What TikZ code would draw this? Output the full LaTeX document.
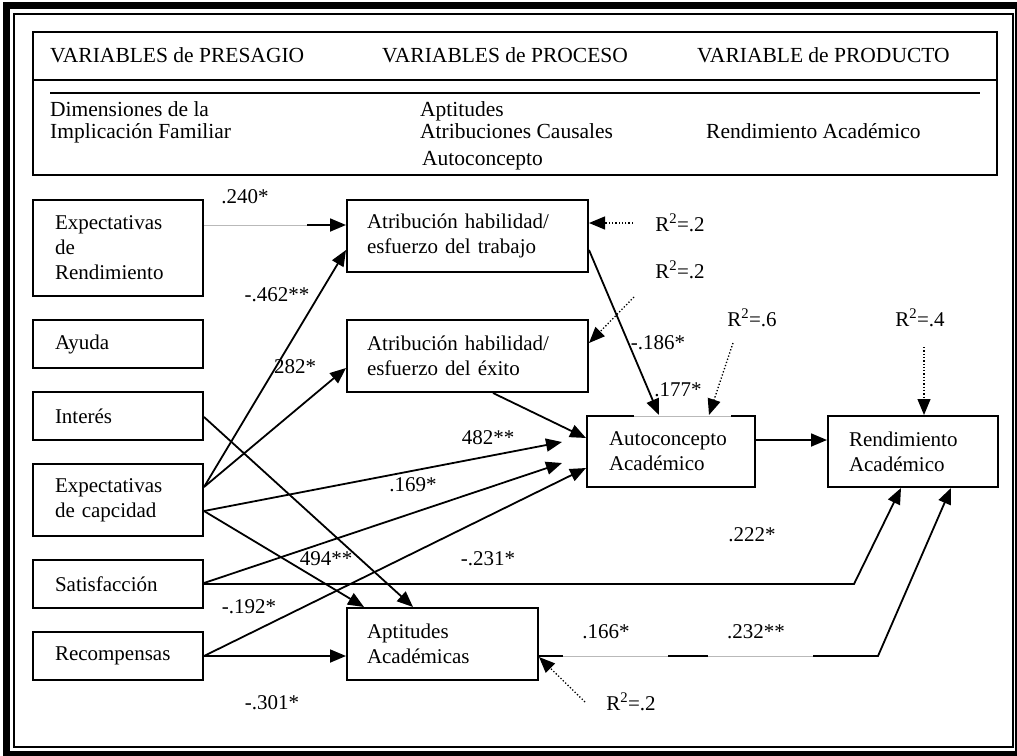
\documentclass[tikz,border=0pt]{standalone}
\usepackage{fontspec}
\setmainfont{Liberation Serif}
\usetikzlibrary{arrows.meta}
\begin{document}
\begin{tikzpicture}[x=1pt,y=-1pt,
  txt/.style={font=\fontsize{21}{25}\selectfont},
  box/.style={draw, line width=2pt, align=left, inner ysep=0pt, txt},
  lbox/.style={box, minimum width=170pt, text width=126pt, inner xsep=22pt},
  abox/.style={box, minimum width=241pt, text width=201pt, inner xsep=20pt, minimum height=72pt},
  lab/.style={txt, inner sep=0pt},
  hdr/.style={font=\fontsize{21.5}{25}\selectfont, inner sep=0pt, anchor=base west},
  arr/.style={line width=1.8pt, -{Triangle[length=16pt,width=13pt]}},
  dotarr/.style={line width=1.3pt, dotted, -{Triangle[length=16pt,width=13pt]}},
  faint/.style={gray!55, line width=0.6pt}
]
\useasboundingbox (0,0) rectangle (1017,755);
% frame
\draw[line width=7pt] (6.5,5) rectangle (1018.5,754.5);
\draw[line width=2pt] (14,14) rectangle (1013,747);
% header
\draw[line width=2pt] (33,32) rectangle (997,175);
\draw[line width=1.5pt] (33,80) -- (997,80);
\draw[line width=2.5pt] (50,93) -- (980,93);
\node[hdr] (h1) at (50,62) {VARIABLES de PRESAGIO};
\node[hdr] (h2) at (382,62) {VARIABLES de PROCESO};
\node[hdr] (h3) at (697,62) {VARIABLE de PRODUCTO};
\node[hdr] (h4) at (50,116) {Dimensiones de la};
\node[hdr] (h5) at (50,138) {Implicación Familiar};
\node[hdr] (h6) at (420,116) {Aptitudes};
\node[hdr] (h7) at (420,138) {Atribuciones Causales};
\node[hdr] (h8) at (422,165) {Autoconcepto};
\node[hdr] (h9) at (706,138) {Rendimiento Académico};
% left boxes
\node[lbox, minimum height=96pt] (er) at (118,248) {Expectativas\\de\\Rendimiento};
\node[lbox, minimum height=48pt] (ay) at (118,344) {Ayuda};
\node[lbox, minimum height=48pt] (in) at (118,416) {Interés};
\node[lbox, minimum height=72pt] (ec) at (118,500) {Expectativas\\de capcidad};
\node[lbox, minimum height=48pt] (sa) at (118,584) {Satisfacción};
\node[lbox, minimum height=48pt] (re) at (118,656) {Recompensas};
% middle / right boxes
\node[abox] (at) at (467.5,236) {Atribución habilidad/\\esfuerzo del trabajo};
\node[abox] (ae) at (467.5,356) {Atribución habilidad/\\esfuerzo del éxito};
\node[box, minimum width=168pt, text width=124pt, inner xsep=22pt, minimum height=71pt] (ac) at (671,451.5) {Autoconcepto\\Académico};
\node[box, minimum width=170pt, text width=128pt, inner xsep=21pt, minimum height=71pt] (ra) at (913,451.5) {Rendimiento\\Académico};
\node[box, minimum width=191pt, text width=151pt, inner xsep=20pt, minimum height=72pt] (ap) at (442.5,644) {Aptitudes\\Académicas};
% faint part of autoconcepto top edge
\draw[white, line width=2.6pt] (634,416) -- (731,416);
\draw[faint] (634,416) -- (731,416);
% connectors
\coordinate (g1) at (307,225);
\draw[faint] (er.east |- g1) -- (g1);
\draw[arr] (g1) -- (at.west |- g1);
\draw[arr] (ec.east |- 0,487) -- (at.west |- 0,250);
\draw[arr] (ec.east |- 0,487) -- (ae.west |- 0,368);
\draw[arr] (in.east |- 0,417) -- (ap.north -| 413,0);
\draw[arr] (ec.east |- 0,511) -- (ap.north -| 364,0);
\coordinate (t6) at (562,442);
\draw[arr] (ec.east |- 0,511) -- (t6);
\coordinate (t7) at (562,463);
\draw[arr] (sa.east |- 0,583) -- (t7);
\draw[arr] (re.east |- 0,656) -- (ac.west |- 0,468);
\coordinate (k9) at (854,584);
\draw[arr] (sa.east |- 0,584) -- (k9) -- (ra.south -| 901,0);
\draw[arr] (re.east |- 0,656) -- (ap.west |- 0,656);
\coordinate (k11) at (878,656);
\draw[arr] (ap.east |- 0,656) -- (k11) -- (ra.south -| 951,0);
\draw[white, line width=2.6pt] (563,656) -- (668,656) (708,656) -- (813,656);
\draw[faint] (563,656) -- (668,656) (708,656) -- (813,656);
\draw[arr] (at.east |- 0,250) -- (ac.north -| 659,0);
\draw[arr] (ae.south -| 493,0) -- (ac.west |- 0,438);
\draw[arr] (ac.east |- 0,440) -- (ra.west |- 0,440);
% residual arrows
\coordinate (d1) at (633,223);
\coordinate (d2) at (634,297);
\coordinate (d3) at (733,343);
\coordinate (d4) at (924,347);
\coordinate (d5) at (585,702);
\draw[dotarr] (d1) -- (at.east |- d1);
\draw[dotarr] (d2) -- (ae.east |- 0,343);
\draw[dotarr] (d3) -- (ac.north -| 709,0);
\draw[dotarr] (d4) -- (ra.north -| d4);
\draw[dotarr] (d5) -- (ap.east |- 0,657);
% R2 labels
\node[lab] (r1) at (680,223) {R\textsuperscript{2}=.2};
\node[lab] (r2) at (680,270) {R\textsuperscript{2}=.2};
\node[lab] (r3) at (752,318) {R\textsuperscript{2}=.6};
\node[lab] (r4) at (920,318) {R\textsuperscript{2}=.4};
\node[lab] (r5) at (631,702) {R\textsuperscript{2}=.2};
% coefficient labels
\node[lab] (l1) at (245,197) {.240*};
\node[lab] (l2) at (277,295) {-.462**};
\node[lab] (l3) at (295,367) {282*};
\node[lab] (l4) at (488,438) {482**};
\node[lab] (l5) at (413,485) {.169*};
\node[lab] (l6) at (326,559) {494**};
\node[lab] (l7) at (249,607) {-.192*};
\node[lab] (l8) at (272,703) {-.301*};
\node[lab] (l9) at (488,559) {-.231*};
\node[lab] (l10) at (752,535) {.222*};
\node[lab] (l11) at (606,632) {.166*};
\node[lab] (l12) at (756,632) {.232**};
\node[lab] (l13) at (658,343) {-.186*};
\node[lab] (l14) at (678,390) {.177*};
\end{tikzpicture}
\end{document}
